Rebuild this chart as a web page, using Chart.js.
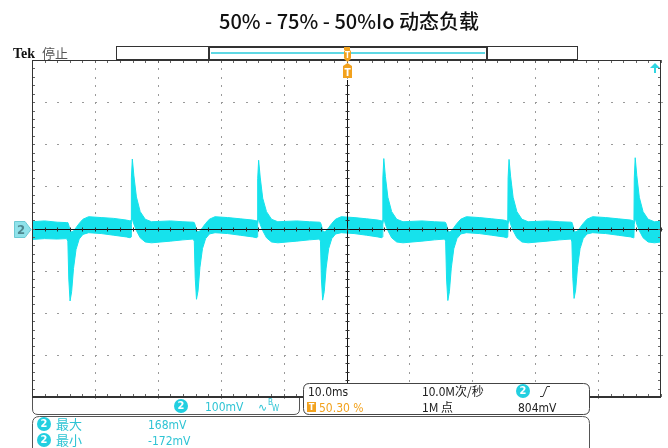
<!DOCTYPE html>
<html>
<head>
<meta charset="utf-8">
<script src="https://cdn.jsdelivr.net/npm/chart.js@4.4.1/dist/chart.umd.min.js"></script>
<style>
  html, body { margin: 0; padding: 0; background: #fff; }
  #wrap { width: 668px; height: 448px; position: relative; }
</style>
</head>
<body>
<div id="wrap"><canvas id="scope" width="668" height="448"></canvas></div>
<script>
// 通道2 纹波包络: [时间 ms, 上沿 mV, 下沿 mV]
const tracePoints = [
  [-50, 16, -26], [-48, 18, -24], [-46, 15, -25], [-44.5, 14, -24],
  // 50% -> 75% 负载跳变
  [-44.3, 14, -30], [-44.15, 8, -120], [-43.95, -5, -172], [-43.7, -8, -150], [-43.4, -6, -95],
  [-43.0, 2, -50], [-42.5, 12, -25], [-41.9, 22, -14], [-41.0, 28, -10], [-39, 26, -12],
  [-37, 24, -16], [-35, 20, -20], [-34.4, 18, -22],
  // 75% -> 50%
  [-34.25, 20, -20], [-34.2, 120, 10], [-34.05, 165, 25], [-33.8, 125, 10], [-33.4, 75, -5],
  [-32.8, 40, -22], [-32.0, 22, -32], [-31.0, 16, -34], [-28, 18, -30], [-26, 16, -27], [-24.4, 15, -25],
  [-24.2, 14, -30], [-24.05, 8, -118], [-23.85, -5, -168], [-23.6, -8, -148], [-23.3, -6, -92],
  [-22.9, 2, -48], [-22.4, 12, -24], [-21.8, 22, -13], [-20.9, 28, -10], [-18.9, 26, -12],
  [-16.9, 23, -16], [-14.9, 20, -20], [-14.3, 18, -22],
  [-14.17, 20, -20], [-14.12, 118, 10], [-13.97, 162, 25], [-13.72, 122, 10], [-13.32, 72, -5],
  [-12.72, 40, -22], [-11.92, 22, -32], [-10.92, 16, -34], [-7.9, 18, -30], [-5.9, 16, -27], [-4.3, 15, -25],
  [-4.14, 14, -30], [-3.99, 8, -120], [-3.79, -5, -170], [-3.54, -8, -150], [-3.24, -6, -94],
  [-2.84, 2, -48], [-2.34, 12, -24], [-1.74, 22, -13], [-0.84, 28, -10], [1.2, 26, -12],
  [3.2, 23, -16], [5.0, 20, -20], [5.6, 18, -22],
  [5.73, 20, -20], [5.78, 120, 10], [5.93, 166, 25], [6.18, 124, 10], [6.58, 74, -5],
  [7.18, 40, -22], [7.98, 22, -32], [8.98, 16, -34], [12, 18, -30], [14, 16, -27], [15.6, 15, -25],
  [15.76, 14, -30], [15.91, 8, -120], [16.11, -5, -171], [16.36, -8, -150], [16.66, -6, -94],
  [17.06, 2, -48], [17.56, 12, -24], [18.16, 22, -13], [19.06, 28, -10], [21.1, 26, -12],
  [23.1, 23, -16], [25.0, 20, -20], [25.5, 18, -22],
  [25.64, 20, -20], [25.69, 120, 10], [25.84, 164, 25], [26.09, 124, 10], [26.49, 74, -5],
  [27.09, 40, -22], [27.89, 22, -32], [28.89, 16, -34], [31.9, 18, -30], [33.9, 16, -27], [35.7, 15, -25],
  [35.83, 14, -30], [35.98, 8, -118], [36.18, -5, -166], [36.43, -8, -146], [36.73, -6, -92],
  [37.13, 2, -48], [37.63, 12, -24], [38.23, 22, -13], [39.13, 28, -10], [41.2, 26, -12],
  [43.2, 23, -16], [45.2, 20, -20], [45.6, 18, -22],
  [45.7, 20, -20], [45.75, 120, 10], [45.9, 168, 25], [46.15, 126, 10], [46.55, 74, -5],
  [47.15, 40, -22], [47.95, 22, -32], [48.95, 16, -34], [50, 17, -32]
];

// 网格: 10 格 x 10ms, 8 格 x 100mV
const xGridMs = [-50, -40, -30, -20, -10, 0, 10, 20, 30, 40, 50];
const yGridMv = [-400, -300, -200, -100, 0, 100, 200, 300, 400];
const triggerMs = 0;

const titleText = "50% - 75% - 50%Io 动态负载";
const chScale = "100mV";
const timeScale = "10.0ms";
const sampleRate = "10.0M次/秒";
const recordLength = "1M 点";
const triggerPos = "50.30 %";
const triggerLevel = "804mV";
const measLabels = ["最大", "最小"];
const measValues = ["168mV", "-172mV"];

const CYAN = "#16e2ec";
const CYAN_TEXT = "#2ec4d4";
const ORANGE = "#f2a21e";
const NARROW = '"Liberation Sans Narrow", "DejaVu Sans Condensed", "Liberation Sans", sans-serif';
const CJK = '"Noto Sans CJK SC", sans-serif';

function minorSteps(ticks) {
  const out = [];
  for (let i = 0; i < ticks.length - 1; i++) {
    for (let k = 0; k < 5; k++) out.push(ticks[i] + (ticks[i + 1] - ticks[i]) * k / 5);
  }
  out.push(ticks[ticks.length - 1]);
  return out;
}

function roundBox(ctx, x, y, w, h, r) {
  ctx.beginPath();
  ctx.moveTo(x + r, y);
  ctx.lineTo(x + w - r, y);
  ctx.quadraticCurveTo(x + w, y, x + w, y + r);
  ctx.lineTo(x + w, y + h - r);
  ctx.quadraticCurveTo(x + w, y + h, x + w - r, y + h);
  ctx.lineTo(x + r, y + h);
  ctx.quadraticCurveTo(x, y + h, x, y + h - r);
  ctx.lineTo(x, y + r);
  ctx.quadraticCurveTo(x, y, x + r, y);
  ctx.closePath();
}

function badge(ctx, cx, cy, label) {
  ctx.fillStyle = "#22cfe0";
  ctx.beginPath();
  ctx.arc(cx, cy, 7, 0, Math.PI * 2);
  ctx.fill();
  ctx.fillStyle = "#fff";
  ctx.font = "bold 11px " + NARROW;
  ctx.textAlign = "center";
  ctx.textBaseline = "middle";
  ctx.fillText(label, cx, cy + 0.5);
  ctx.textAlign = "left";
  ctx.textBaseline = "alphabetic";
}

// 点状刻度网格
const scopeGrid = {
  id: "scopeGrid",
  beforeDatasetsDraw(chart) {
    const { ctx, scales: { x, y } } = chart;
    const xm = minorSteps(xGridMs), ym = minorSteps(yGridMv);
    ctx.save();
    ctx.fillStyle = "#9a9a9a";
    xGridMs.slice(1, -1).forEach(t => {
      const px = Math.round(x.getPixelForValue(t));
      ym.forEach(v => ctx.fillRect(px, Math.round(y.getPixelForValue(v)), 1, 2));
    });
    yGridMv.slice(1, -1).forEach(v => {
      const py = Math.round(y.getPixelForValue(v));
      xm.forEach(t => ctx.fillRect(Math.round(x.getPixelForValue(t)), py, 2, 1));
    });
    ctx.restore();
  },
  afterDatasetsDraw(chart) {
    const { ctx, chartArea: a, scales: { x, y } } = chart;
    const xm = minorSteps(xGridMs), ym = minorSteps(yGridMv);
    const x0 = Math.round(x.getPixelForValue(triggerMs)) + 0.5;
    const y0 = Math.round(y.getPixelForValue(0)) + 0.5;
    ctx.save();
    // 中心十字线与小刻度
    ctx.strokeStyle = "#111";
    ctx.lineWidth = 1;
    ctx.beginPath();
    ctx.moveTo(a.left, y0); ctx.lineTo(a.right, y0);
    ctx.moveTo(x0, a.top + 20); ctx.lineTo(x0, a.bottom);
    ctx.stroke();
    ctx.strokeStyle = "#333";
    ctx.beginPath();
    xm.forEach(t => {
      const px = Math.round(x.getPixelForValue(t)) + 0.5;
      ctx.moveTo(px, y0 - 2); ctx.lineTo(px, y0 + 2);
    });
    ym.forEach(v => {
      const py = Math.round(y.getPixelForValue(v)) + 0.5;
      ctx.moveTo(x0 - 2, py); ctx.lineTo(x0 + 2, py);
    });
    ctx.stroke();

    // 边框及边沿刻度
    ctx.strokeStyle = "#666";
    ctx.beginPath();
    xm.forEach(t => {
      const px = Math.round(x.getPixelForValue(t)) + 0.5;
      ctx.moveTo(px, a.top); ctx.lineTo(px, a.top + 3);
      ctx.moveTo(px, a.bottom); ctx.lineTo(px, a.bottom - 3);
    });
    ym.forEach(v => {
      const py = Math.round(y.getPixelForValue(v)) + 0.5;
      ctx.moveTo(a.left, py); ctx.lineTo(a.left + 3, py);
      ctx.moveTo(a.right, py); ctx.lineTo(a.right - 3, py);
    });
    ctx.stroke();
    ctx.strokeStyle = "#333";
    ctx.strokeRect(a.left + 0.5, a.top + 0.5, a.right - a.left - 1, a.bottom - a.top - 1);
    ctx.lineWidth = 2;
    ctx.beginPath();
    ctx.moveTo(a.left, a.bottom); ctx.lineTo(a.right, a.bottom);
    ctx.stroke();
    ctx.restore();
  },
  afterDraw(chart) {
    const { ctx, scales: { x, y } } = chart;
    const xt = Math.round(x.getPixelForValue(triggerMs));
    const y0 = Math.round(y.getPixelForValue(0));
    ctx.save();

    // 标题
    ctx.fillStyle = "#111";
    ctx.font = "500 20px " + CJK;
    ctx.textAlign = "center";
    ctx.fillText(titleText, 349, 29);
    ctx.textAlign = "left";

    // Tek 停止
    ctx.font = 'bold 14px "Liberation Serif", serif';
    ctx.fillText("Tek", 13, 58);
    ctx.fillStyle = "#555";
    ctx.font = "13px " + CJK;
    ctx.fillText("停止", 42, 58);

    // 记录长度条
    ctx.strokeStyle = "#333";
    ctx.lineWidth = 1;
    ctx.strokeRect(116.5, 46.5, 461, 13);
    ctx.lineWidth = 2;
    ctx.strokeRect(209, 47, 278, 13);
    ctx.strokeStyle = "#5fd8e4";
    ctx.lineWidth = 2;
    ctx.beginPath();
    ctx.moveTo(211, 53); ctx.lineTo(485, 53);
    ctx.stroke();

    // 触发位置标记
    ctx.fillStyle = ORANGE;
    ctx.fillRect(xt - 3, 47, 6, 3);
    roundBox(ctx, xt - 3, 50, 7, 9, 1.5);
    ctx.fill();
    ctx.beginPath();
    ctx.moveTo(xt - 3, 59); ctx.lineTo(xt + 4, 59); ctx.lineTo(xt + 0.5, 62);
    ctx.fill();
    ctx.beginPath();
    ctx.moveTo(xt - 4, 66); ctx.lineTo(xt + 0.5, 63); ctx.lineTo(xt + 5, 66);
    ctx.lineTo(xt + 5, 78); ctx.lineTo(xt - 4, 78);
    ctx.closePath();
    ctx.fill();
    ctx.fillStyle = "#fff";
    ctx.font = "bold 10px " + NARROW;
    ctx.textAlign = "center";
    ctx.fillText("T", xt + 0.5, 76);
    ctx.font = "bold 8px " + NARROW;
    ctx.fillText("T", xt + 0.5, 58);
    ctx.textAlign = "left";

    // 触发电平箭头 (超出屏幕上方)
    ctx.fillStyle = "#2fd6e2";
    ctx.beginPath();
    ctx.moveTo(655, 63); ctx.lineTo(660, 68); ctx.lineTo(650, 68);
    ctx.closePath();
    ctx.fill();
    ctx.fillRect(654, 68, 2, 5);

    // 通道 2 地电平标记
    ctx.fillStyle = "#8fe2ea";
    ctx.strokeStyle = "#6ccad4";
    ctx.lineWidth = 1;
    ctx.beginPath();
    ctx.moveTo(14.5, y0 - 7.5); ctx.lineTo(25, y0 - 7.5); ctx.lineTo(31, y0 + 0.5);
    ctx.lineTo(25, y0 + 8.5); ctx.lineTo(14.5, y0 + 8.5);
    ctx.closePath();
    ctx.fill(); ctx.stroke();
    ctx.fillStyle = "#4e8890";
    ctx.font = "bold 13px " + NARROW;
    ctx.fillText("2", 17, y0 + 5);

    // 通道读数框
    ctx.strokeStyle = "#555";
    ctx.lineWidth = 1;
    ctx.beginPath();
    ctx.moveTo(32.5, 398); ctx.lineTo(32.5, 409);
    ctx.quadraticCurveTo(32.5, 414.5, 38, 414.5);
    ctx.lineTo(294, 414.5);
    ctx.quadraticCurveTo(299.5, 414.5, 299.5, 409);
    ctx.lineTo(299.5, 398);
    ctx.stroke();
    badge(ctx, 181, 406, "2");
    ctx.fillStyle = CYAN_TEXT;
    ctx.font = "12px " + NARROW;
    ctx.fillText(chScale, 205, 411);
    ctx.font = "11px 'DejaVu Sans'";
    ctx.fillText("∿", 258, 411);
    ctx.font = "8px " + NARROW;
    ctx.fillText("B", 268, 405);
    ctx.fillText("W", 272, 411);

    // 水平/触发读数框
    ctx.fillStyle = "#fff";
    roundBox(ctx, 303.5, 383.5, 286, 31, 6);
    ctx.fill();
    ctx.strokeStyle = "#444";
    ctx.stroke();
    ctx.fillStyle = "#222";
    ctx.font = "12px " + NARROW;
    ctx.fillText(timeScale, 308, 396);
    ctx.font = "12px " + CJK;
    ctx.fillText(sampleRate, 422, 396);
    ctx.fillText(recordLength, 422, 412);
    ctx.font = "12px " + NARROW;
    ctx.fillText(triggerLevel, 518, 412);
    badge(ctx, 523, 391, "2");
    ctx.strokeStyle = "#333";
    ctx.lineWidth = 1;
    ctx.beginPath();
    ctx.moveTo(540, 396.5); ctx.lineTo(543, 396.5); ctx.lineTo(547, 386.5); ctx.lineTo(550, 386.5);
    ctx.stroke();
    ctx.fillStyle = ORANGE;
    ctx.fillRect(307, 402, 9, 10);
    ctx.fillStyle = "#fff";
    ctx.font = "bold 9px " + NARROW;
    ctx.textAlign = "center";
    ctx.fillText("T", 311.5, 410);
    ctx.textAlign = "left";
    ctx.fillStyle = ORANGE;
    ctx.font = "12px " + NARROW;
    ctx.fillText(triggerPos, 319, 412);

    // 测量结果框
    ctx.strokeStyle = "#555";
    roundBox(ctx, 32.5, 416.5, 557, 40, 7);
    ctx.stroke();
    measLabels.forEach((lab, i) => {
      const cy = 424 + i * 16;
      badge(ctx, 44, cy, "2");
      ctx.fillStyle = CYAN_TEXT;
      ctx.font = "13px " + CJK;
      ctx.fillText(lab, 56, cy + 5);
      ctx.font = "12px " + NARROW;
      ctx.fillText(measValues[i], 148, cy + 5);
    });
    ctx.restore();
  }
};

const ctx = document.getElementById("scope").getContext("2d");
new Chart(ctx, {
  type: "line",
  data: {
    datasets: [
      {
        label: "上沿",
        data: tracePoints.map(p => ({ x: p[0], y: p[1] })),
        borderColor: CYAN,
        backgroundColor: CYAN,
        borderWidth: 1,
        pointRadius: 0,
        tension: 0,
        fill: "+1",
      },
      {
        label: "下沿",
        data: tracePoints.map(p => ({ x: p[0], y: p[2] })),
        borderColor: CYAN,
        borderWidth: 1,
        pointRadius: 0,
        tension: 0,
        fill: false,
      },
    ],
  },
  options: {
    responsive: false,
    animation: false,
    devicePixelRatio: 1,
    layout: { padding: { left: 32, top: 60, right: 7, bottom: 51 } },
    plugins: { legend: { display: false }, tooltip: { enabled: false } },
    scales: {
      x: { type: "linear", min: -50, max: 50, display: false },
      y: { type: "linear", min: -400, max: 400, display: false },
    },
  },
  plugins: [scopeGrid],
});
</script>
</body>
</html>
